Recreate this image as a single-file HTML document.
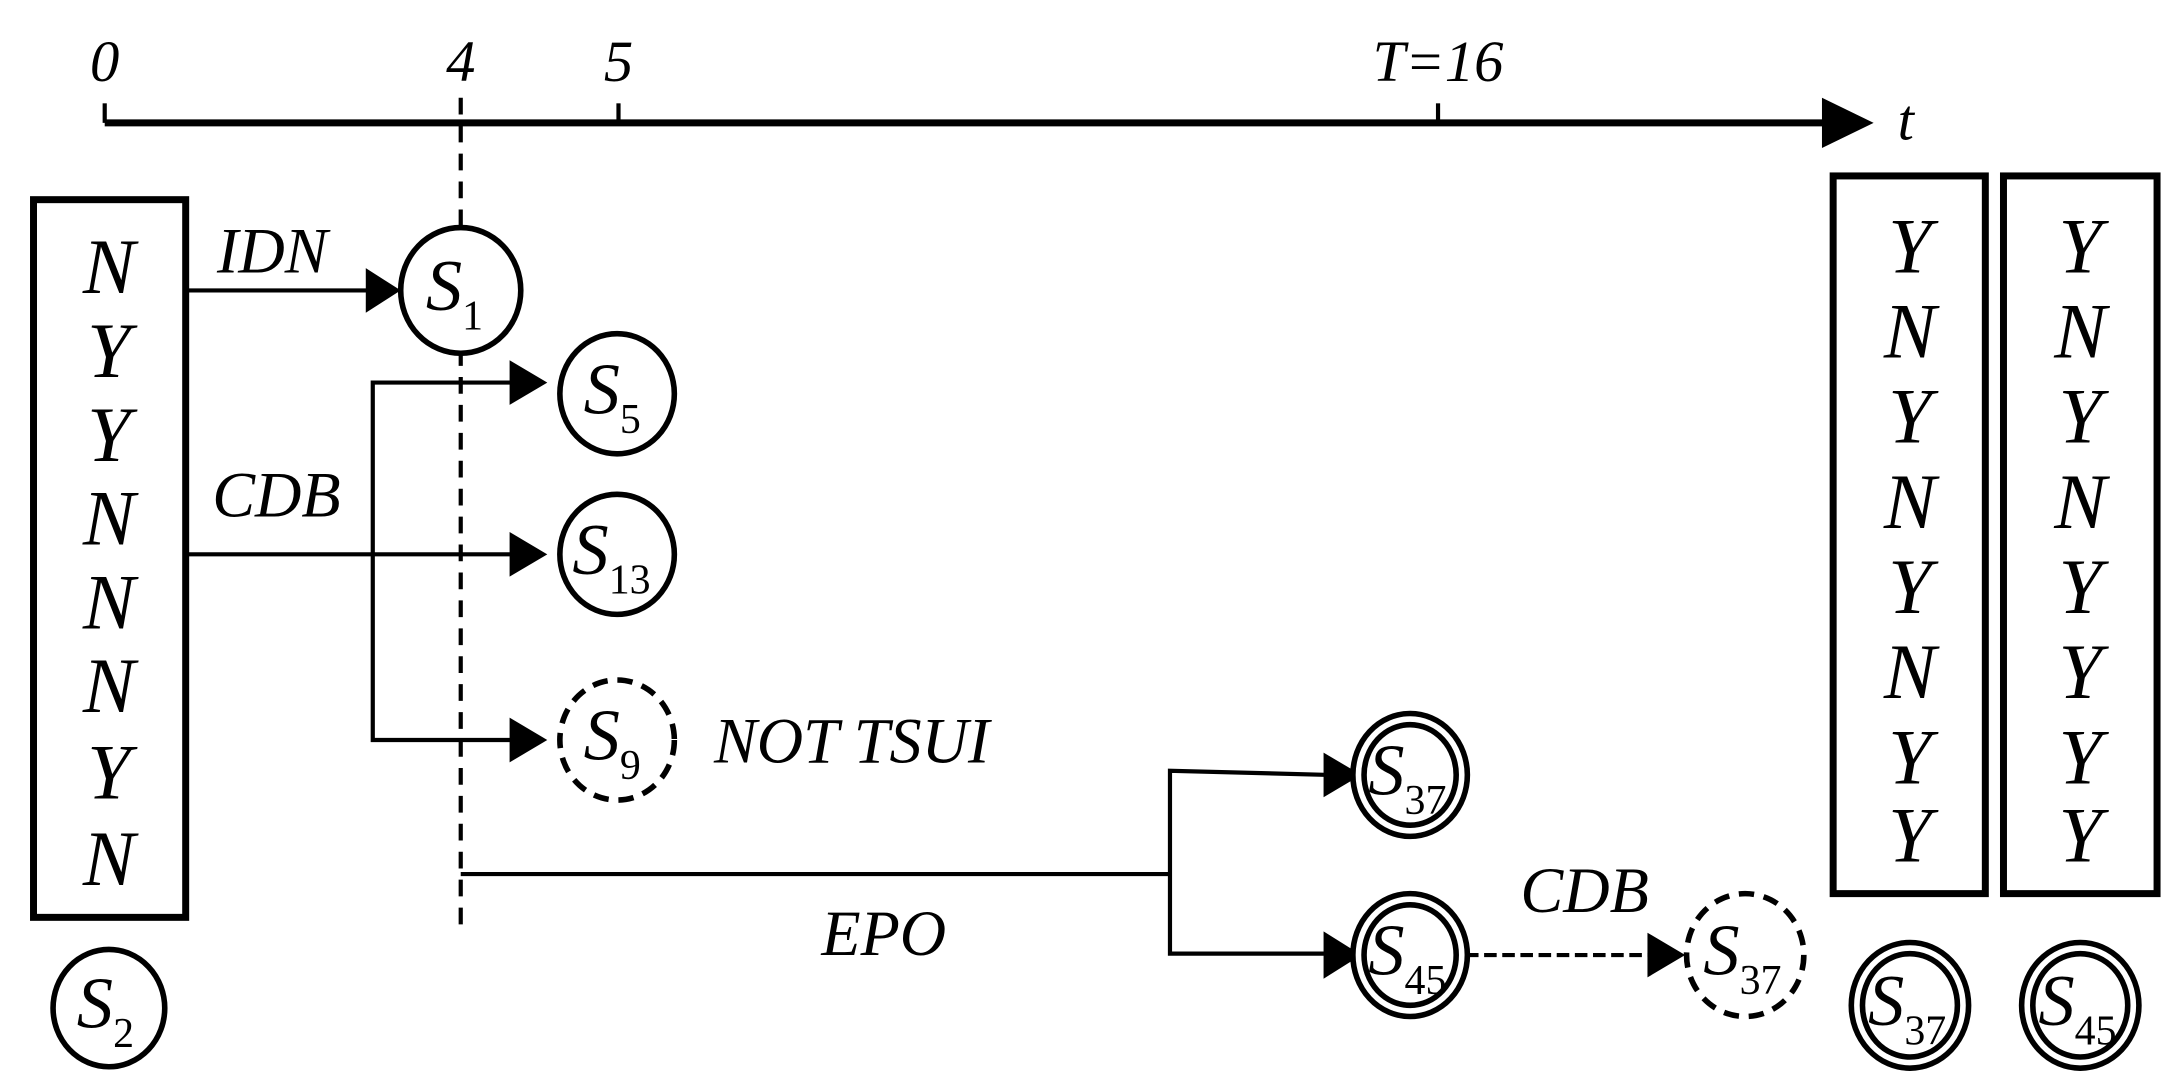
<!DOCTYPE html>
<html><head><style>html,body{margin:0;padding:0;background:#fff}svg{display:block}
text{font-family:"Liberation Serif",serif;font-style:italic;fill:#000}</style></head><body>
<svg width="2178" height="1087" viewBox="0 0 1560 778.5" preserveAspectRatio="none" xmlns="http://www.w3.org/2000/svg">
<g stroke="#000" fill="none">
<line x1="75" y1="88" x2="1310" y2="88" stroke-width="5"/>
<path d="M1305,70L1342,88L1305,106z" fill="#000" stroke="none"/>
<g stroke-width="3"><line x1="75" y1="74" x2="75" y2="88"/><line x1="443" y1="74" x2="443" y2="88"/><line x1="1030" y1="74" x2="1030" y2="88"/></g>
<line x1="330" y1="70" x2="330" y2="662" stroke-width="3" stroke-dasharray="12,8"/>
<rect x="24" y="143" width="109" height="514" stroke-width="5"/>
<rect x="1313" y="126" width="109" height="514" stroke-width="5"/>
<rect x="1435" y="126" width="110" height="514" stroke-width="5"/>
<g stroke-width="3">
<line x1="133" y1="208" x2="265" y2="208"/>
<line x1="133" y1="397" x2="368" y2="397"/>
<polyline points="368,274 267,274 267,530 368,530"/>
<line x1="330" y1="626" x2="838" y2="626"/>
<polyline points="952,555 838,552 838,683 952,683"/>
<line x1="1050" y1="684" x2="1185" y2="684" stroke-dasharray="9,4"/>
</g>
<g fill="#000" stroke="none">
<path d="M262,192L287,208L262,224z"/>
<path d="M365,258L392,274L365,290z"/>
<path d="M365,381L392,397L365,413z"/>
<path d="M365,514L392,530L365,546z"/>
<path d="M948,539L975,555L948,571z"/>
<path d="M948,667L975,684L948,701z"/>
<path d="M1180,668L1207,684L1180,700z"/>
</g>
<g stroke-width="4" fill="#fff">
<ellipse cx="330" cy="208" rx="43" ry="45"/>
<ellipse cx="78" cy="722" rx="40" ry="42"/>
<ellipse cx="442" cy="282" rx="41" ry="43"/>
<ellipse cx="442" cy="397" rx="41" ry="43"/>
<ellipse cx="442" cy="530" rx="41" ry="43" stroke-dasharray="11,7"/>
<ellipse cx="1250" cy="684" rx="42" ry="44" stroke-dasharray="11,7"/>
<ellipse cx="1010" cy="555" rx="41" ry="44"/><ellipse cx="1010" cy="555" rx="33" ry="36"/>
<ellipse cx="1010" cy="684" rx="41" ry="44"/><ellipse cx="1010" cy="684" rx="33" ry="36"/>
<ellipse cx="1368" cy="720" rx="42" ry="45"/><ellipse cx="1368" cy="720" rx="34" ry="37"/>
<ellipse cx="1490" cy="720" rx="42" ry="45"/><ellipse cx="1490" cy="720" rx="34" ry="37"/>
</g>
</g>
<g font-size="42" text-anchor="middle">
<text x="75" y="58">0</text><text x="330" y="58">4</text><text x="443" y="58">5</text><text x="1030" y="58">T=16</text>
<text x="1365" y="100">t</text>
</g>
<g font-size="46" text-anchor="middle">
<text x="195" y="195">IDN</text><text x="198" y="370">CDB</text>
<text x="610" y="546">NOT TSUI</text><text x="633" y="684">EPO</text><text x="1135" y="653">CDB</text>
</g>
<g font-size="56" text-anchor="middle">
<text x="78" y="210">N</text><text x="78" y="270">Y</text><text x="78" y="330">Y</text><text x="78" y="390">N</text><text x="78" y="450">N</text><text x="78" y="510">N</text><text x="78" y="572">Y</text><text x="78" y="634">N</text>
<text x="1368" y="195">Y</text><text x="1368" y="256">N</text><text x="1368" y="317">Y</text><text x="1368" y="378">N</text><text x="1368" y="439">Y</text><text x="1368" y="500">N</text><text x="1368" y="561">Y</text><text x="1368" y="617">Y</text>
<text x="1490" y="195">Y</text><text x="1490" y="256">N</text><text x="1490" y="317">Y</text><text x="1490" y="378">N</text><text x="1490" y="439">Y</text><text x="1490" y="500">Y</text><text x="1490" y="561">Y</text><text x="1490" y="617">Y</text>
</g>
<g font-size="52">
<text x="305" y="222">S<tspan font-size="30" font-style="normal" dy="14">1</tspan></text>
<text x="55" y="736">S<tspan font-size="30" font-style="normal" dy="14">2</tspan></text>
<text x="418" y="296">S<tspan font-size="30" font-style="normal" dy="14">5</tspan></text>
<text x="410" y="411">S<tspan font-size="30" font-style="normal" dy="14">13</tspan></text>
<text x="418" y="544">S<tspan font-size="30" font-style="normal" dy="14">9</tspan></text>
<text x="980" y="569">S<tspan font-size="30" font-style="normal" dy="14">37</tspan></text>
<text x="980" y="698">S<tspan font-size="30" font-style="normal" dy="14">45</tspan></text>
<text x="1220" y="698">S<tspan font-size="30" font-style="normal" dy="14">37</tspan></text>
<text x="1338" y="734">S<tspan font-size="30" font-style="normal" dy="14">37</tspan></text>
<text x="1460" y="734">S<tspan font-size="30" font-style="normal" dy="14">45</tspan></text>
</g>
</svg>
</body></html>
